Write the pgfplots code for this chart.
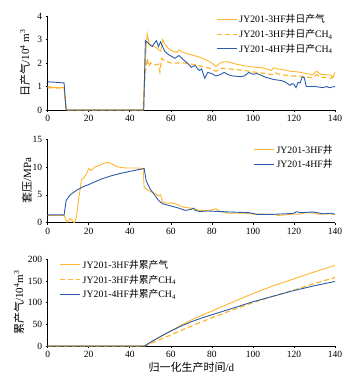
\documentclass[border=0pt]{standalone}
\usepackage{pgfplots}
\pgfplotsset{compat=1.18}
\usepackage{fontspec}
\setmainfont{Liberation Serif}
\newfontfamily\cjk{Noto Sans CJK SC}
\definecolor{og}{HTML}{FFB62C}
\definecolor{bl}{HTML}{2B5BAA}
\pgfplotsset{panel/.style={
  scale only axis, width=287.3pt,
  xmin=0, xmax=140, xtick={0,20,...,140},
  axis lines=left, axis line style={-, line width=0.6pt},
  tick style={black, line width=0.6pt}, tick align=outside, major tick length=2pt,
  tick label style={font=\fontsize{9.5}{11}\selectfont},
  /pgf/number format/assume math mode=true,
  label style={font=\fontsize{11}{13}\selectfont},
  legend style={draw=none, fill=none, font=\fontsize{9.8}{11}\selectfont, row sep=1pt},
  legend cell align=left,
  legend image code/.code={\draw[##1] (0pt,0pt) -- (20pt,0pt);},
  clip=false,
}}
\begin{document}
\begin{tikzpicture}[x=1pt,y=1pt]
\useasboundingbox (0,0) rectangle (361,-389);
% Panel 1
\begin{axis}[panel, height=94pt, at={(47.7pt,-110pt)}, anchor=south west,
  ymin=0, ymax=4, ytick={0,1,2,3,4},
  ylabel={{\cjk 日产气}/10\textsuperscript{4} m\textsuperscript{3}},
  ylabel style={at={(axis description cs:-0.079,0.5)}, anchor=center},
  legend style={at={(1.01,1.06)}, anchor=north east}]
\addplot[og, line width=0.9pt] coordinates {(0,1.0)(2,0.97)(4,0.95)(6,0.95)(8,0.95)(8.5,0.5)(9,0)(46.5,0)(47.5,2.0)(48.5,3.25)(49.5,2.8)(51,2.75)(53,2.65)(55,2.5)(56,3.0)(57,2.8)(59,2.6)(61,2.5)(63,2.45)(64,2.55)(66,2.45)(70,2.35)(74,2.25)(78,2.1)(80,2.0)(82,1.85)(84,2.0)(86,2.05)(88,2.05)(92,1.95)(96,1.88)(100,1.83)(104,1.8)(108,1.72)(109,1.68)(110,1.8)(112,1.75)(114,1.72)(116,1.7)(118,1.65)(122,1.62)(126,1.55)(129,1.5)(131,1.65)(133,1.52)(136,1.5)(138,1.48)(139,1.4)(140,1.6)};
\addlegendentry{JY201-3HF{\cjk 井日产气}}
\addplot[og, line width=1.2pt, dash pattern=on 5pt off 3pt] coordinates {(0,0.95)(8,0.93)(8.5,0.5)(9,0)(46.5,0)(47.5,1.5)(48.5,2.2)(49.2,1.85)(50,2.0)(52,1.92)(54,1.95)(54.7,1.62)(55.5,2.2)(57,2.1)(60,2.0)(64,2.0)(67,2.0)(70,1.95)(74,1.88)(78,1.8)(80,1.75)(82,1.65)(85,1.78)(88,1.75)(92,1.72)(96,1.68)(100,1.62)(104,1.58)(108,1.52)(110,1.5)(111,1.58)(113,1.52)(118,1.45)(122,1.45)(126,1.4)(129,1.38)(131,1.5)(133,1.4)(136,1.38)(138,1.35)(140,1.45)};
\addlegendentry{JY201-3HF{\cjk 井日产}CH\textsubscript{4}}
\addplot[bl, line width=0.9pt] coordinates {(0,1.2)(4,1.18)(8,1.15)(8.5,0.5)(9,0)(46.8,0)(47.6,2.95)(49,2.85)(50,2.75)(51,2.7)(52,2.85)(53,2.95)(54,2.7)(55,2.9)(56,2.7)(57,2.5)(59,2.35)(61,2.25)(62,2.2)(64,2.32)(66,2.15)(68,2.0)(70,1.82)(72,1.9)(73,1.75)(74,1.68)(75,1.75)(76.5,1.35)(78,1.6)(80,1.55)(82,1.45)(84,1.5)(86,1.6)(88,1.5)(90,1.45)(94,1.42)(96,1.45)(98,1.6)(100,1.52)(102,1.55)(104,1.48)(106,1.4)(110,1.3)(114,1.25)(116,1.18)(118,1.05)(119,1.12)(120,1.1)(121,0.95)(122,1.18)(123,1.15)(124,1.4)(125,1.38)(126,1.0)(130,1.0)(132,0.98)(134,0.95)(136,1.0)(137,0.95)(140,1.0)};
\addlegendentry{JY201-4HF{\cjk 井日产}CH\textsubscript{4}}
\end{axis}
% Panel 2
\begin{axis}[panel, height=83.7pt, at={(47.7pt,-222.7pt)}, anchor=south west,
  ymin=0, ymax=15, ytick={0,5,10,15},
  ylabel={{\cjk 套压}/MPa},
  ylabel style={at={(axis description cs:-0.072,0.5)}, anchor=center},
  legend style={at={(1.01,0.98)}, anchor=north east}]
\addplot[og, line width=0.9pt] coordinates {(0,1.3)(8,1.3)(9.5,0.1)(10,0.3)(11,0.8)(12,0.3)(13,0)(14,1)(15,4)(16.5,7.8)(17.5,8.0)(18.5,8.5)(20,9.7)(21,9.4)(22,9.6)(23,10.0)(25,10.2)(27,10.6)(29,10.8)(31,10.6)(34,10.0)(38,9.8)(44,9.8)(46.5,9.7)(47,6.3)(48,6.0)(50,5.6)(52,5.3)(54,4.8)(55,5.0)(56,3.7)(58,3.5)(61,3.5)(63,3.3)(64,3.1)(66,2.8)(70,2.6)(74,2.2)(78,2.2)(80,2.3)(82,2.5)(84,2.0)(88,1.7)(96,1.7)(100,1.55)(110,1.5)(112,1.3)(116,1.4)(120,1.6)(122,1.5)(126,1.8)(130,1.7)(132,1.5)(136,1.6)(140,1.5)};
\addlegendentry{JY201-3HF{\cjk 井}}
\addplot[bl, line width=0.9pt] coordinates {(0,1.4)(8,1.4)(9,4.0)(11,5.0)(14,5.8)(17,6.4)(21,7.0)(26,7.8)(30,8.3)(35,8.8)(40,9.2)(44,9.5)(47,9.7)(48,7.5)(50,6.0)(52,5.0)(54,4.0)(56,3.4)(60,3.0)(64,2.6)(67,2.2)(70,2.4)(71,2.6)(72,2.2)(74,2.0)(78,2.1)(84,2.0)(90,1.9)(98,1.8)(102,1.5)(110,1.5)(116,1.6)(120,1.7)(121,1.95)(124,1.8)(128,1.9)(130,1.9)(134,1.6)(138,1.7)(140,1.5)};
\addlegendentry{JY201-4HF{\cjk 井}}
\end{axis}
% Panel 3
\begin{axis}[panel, height=86.7pt, at={(47.7pt,-346pt)}, anchor=south west,
  ymin=0, ymax=200, ytick={0,50,...,200},
  ylabel={{\cjk 累产气}/10\textsuperscript{4}m\textsuperscript{3}},
  ylabel style={at={(axis description cs:-0.1,0.5)}, anchor=center},
  xlabel={{\cjk 归一化生产时间}/d},
  xlabel style={at={(axis description cs:0.5,0)}, yshift=-21pt, anchor=center},
  legend style={at={(0.03,1.04)}, anchor=north west}]
\addplot[og, line width=0.9pt] coordinates {(0,0)(47,0)(48,2)(49,5)(50,8)(52,13.5)(55,21.5)(60,35)(65,48)(70,60)(75,70.5)(80,80.5)(85,91)(90,101)(95,111)(100,121)(105,130)(110,139)(115,147)(120,155)(125,163)(130,171)(135,178.5)(140,186)};
\addlegendentry{JY201-3HF{\cjk 井累产气}}
\addplot[og, line width=1.2pt, dash pattern=on 5pt off 3pt] coordinates {(0,0)(47,0)(48,1.5)(49,3.5)(50,5.5)(52,9.5)(55,15.5)(60,25.5)(65,36)(70,46)(75,55.5)(80,65)(85,74)(90,83)(95,91.5)(100,100)(105,107.5)(110,115)(115,122)(120,129)(125,136.5)(130,144)(135,151)(140,158)};
\addlegendentry{JY201-3HF{\cjk 井累产}CH\textsubscript{4}}
\addplot[bl, line width=0.9pt] coordinates {(0,0)(47,0)(48,2.5)(49,5.5)(50,8.5)(52,14)(55,22)(60,34.5)(65,46)(70,56)(75,64.5)(80,72)(85,79.5)(90,87)(95,94.5)(100,102)(105,108.5)(110,115)(115,121.5)(120,128)(125,133.5)(130,139)(135,144)(140,149)};
\addlegendentry{JY201-4HF{\cjk 井累产}CH\textsubscript{4}}
\end{axis}
\end{tikzpicture}
\end{document}
